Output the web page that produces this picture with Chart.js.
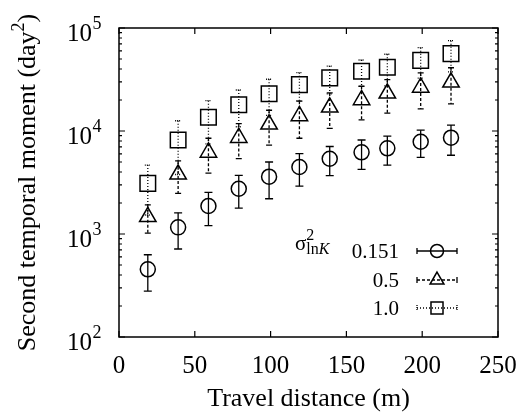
<!DOCTYPE html>
<html>
<head>
<meta charset="utf-8">
<script src="https://cdn.jsdelivr.net/npm/chart.js@4.4.1/dist/chart.umd.min.js"></script>
<style>
  html, body { margin: 0; padding: 0; background: #fff; }
</style>
</head>
<body>
<canvas id="momentChart" width="524" height="418"></canvas>
<script>
// travel distance (m) of the sampling planes
const distances = [19, 39, 59, 79, 99, 119, 139, 160, 177, 199, 219];

// sigma^2 lnK = 0.151
const moment0151 = [454, 1160, 1870, 2750, 3600, 4470, 5380, 6210, 6790, 7870, 8610];
const spread0151 = [175, 445, 665, 965, 1400, 1560, 1690, 1965, 2130, 2325, 2795];
// sigma^2 lnK = 0.5
const moment05 = [1470, 3800, 6200, 8600, 11600, 14000, 17000, 20000, 23200, 26500, 29700];
const spread05 = [450, 1320, 2300, 3200, 4300, 5500, 6400, 7200, 8300, 10100, 11400];
// sigma^2 lnK = 1.0
const moment10 = [3100, 8180, 13600, 18000, 23000, 28200, 32800, 38000, 41500, 48500, 56400];
const spread10 = [1570, 4400, 6100, 7000, 8800, 8600, 9900, 10900, 14100, 15900, 18900];

const seriesLabels = ['0.151', '0.5', '1.0'];
const xTicks = [0, 50, 100, 150, 200, 250];
const yExponents = [2, 3, 4, 5];

const means = [moment0151, moment05, moment10];
const spreads = [spread0151, spread05, spread10];
const styles = ['circle', 'triangle', 'rect'];
const radii = [7.5, 9.5, 11];
const legendRadii = [6.5, 8, 8.5];
const dashes = [[], [3, 2], [1, 2]];

const ink = '#000';
const serif = '"Liberation Serif", "Times New Roman", serif';

function drawErrorBars(chart) {
  const ctx = chart.ctx;
  const xs = chart.scales.x, ys = chart.scales.y;
  chart.data.datasets.forEach((ds, i) => {
    ctx.save();
    ctx.strokeStyle = ink;
    ctx.lineWidth = 1.3;
    ds.data.forEach((p, j) => {
      const x = xs.getPixelForValue(p.x);
      const hi = ys.getPixelForValue(p.y + spreads[i][j]);
      const lo = ys.getPixelForValue(p.y - spreads[i][j]);
      const cap = i === 0 ? 4 : 3;
      ctx.setLineDash(dashes[i]);
      ctx.beginPath();
      ctx.moveTo(x, hi); ctx.lineTo(x, lo);
      ctx.stroke();
      ctx.setLineDash(i === 2 ? [1, 1] : []);
      ctx.beginPath();
      ctx.moveTo(x - cap, hi); ctx.lineTo(x + cap, hi);
      ctx.moveTo(x - cap, lo); ctx.lineTo(x + cap, lo);
      ctx.stroke();
    });
    ctx.restore();
  });
}

function drawFrame(chart) {
  const ctx = chart.ctx;
  const xs = chart.scales.x, ys = chart.scales.y;
  const { left, right, top, bottom } = chart.chartArea;
  ctx.save();
  ctx.strokeStyle = ink;
  ctx.lineWidth = 1.5;
  ctx.strokeRect(left, top, right - left, bottom - top);

  ctx.lineWidth = 1.2;
  ctx.beginPath();
  xTicks.forEach(v => {
    const px = xs.getPixelForValue(v);
    ctx.moveTo(px, bottom); ctx.lineTo(px, bottom - 6);
    ctx.moveTo(px, top); ctx.lineTo(px, top + 6);
  });
  yExponents.forEach((e, k) => {
    const py = ys.getPixelForValue(Math.pow(10, e));
    ctx.moveTo(left, py); ctx.lineTo(left + 6, py);
    ctx.moveTo(right, py); ctx.lineTo(right - 6, py);
    if (k === yExponents.length - 1) return;
    for (let m = 2; m <= 9; m++) {
      const pm = ys.getPixelForValue(m * Math.pow(10, e));
      ctx.moveTo(left, pm); ctx.lineTo(left + 3, pm);
      ctx.moveTo(right, pm); ctx.lineTo(right - 3, pm);
    }
  });
  ctx.stroke();

  // tick labels
  ctx.fillStyle = ink;
  ctx.textBaseline = 'alphabetic';
  ctx.font = '25px ' + serif;
  ctx.textAlign = 'center';
  xTicks.forEach(v => ctx.fillText(String(v), xs.getPixelForValue(v), 373));

  ctx.textAlign = 'left';
  yExponents.forEach(e => {
    const py = ys.getPixelForValue(Math.pow(10, e));
    ctx.font = '25px ' + serif;
    const wBase = ctx.measureText('10').width;
    ctx.font = '18px ' + serif;
    const wExp = ctx.measureText(String(e)).width;
    const x0 = 101 - wBase - wExp;
    ctx.font = '25px ' + serif;
    ctx.fillText('10', x0, py + 12.5);
    ctx.font = '18px ' + serif;
    ctx.fillText(String(e), x0 + wBase + 0.5, py + 1);
  });

  // axis titles
  ctx.font = '26px ' + serif;
  ctx.textAlign = 'center';
  ctx.fillText('Travel distance (m)', (left + right) / 2, 406);

  ctx.save();
  ctx.translate(35, (top + bottom) / 2);
  ctx.rotate(-Math.PI / 2);
  ctx.textAlign = 'left';
  const head = 'Second temporal moment (day';
  ctx.font = '26px ' + serif;
  const wHead = ctx.measureText(head).width;
  const wClose = ctx.measureText(')').width;
  ctx.font = '18px ' + serif;
  const wSup = ctx.measureText('2').width;
  let tx = -(wHead + wSup + wClose) / 2;
  ctx.font = '26px ' + serif;
  ctx.fillText(head, tx, 0);
  tx += wHead;
  ctx.font = '18px ' + serif;
  ctx.fillText('2', tx, -11);
  tx += wSup;
  ctx.font = '26px ' + serif;
  ctx.fillText(')', tx, 0);
  ctx.restore();

  // legend inside the plot
  const rows = [251, 280, 308];
  ctx.font = '21px ' + serif;
  ctx.textAlign = 'right';
  seriesLabels.forEach((lab, i) => ctx.fillText(lab, 399, rows[i] + 7));

  ctx.textAlign = 'left';
  ctx.font = '21px ' + serif;
  ctx.fillText('\u03c3', 295, 250);
  const sx = 295 + ctx.measureText('\u03c3').width;
  ctx.font = '16px ' + serif;
  ctx.fillText('2', sx, 240);
  ctx.fillText('ln', sx, 254);
  const wLn = ctx.measureText('ln').width;
  ctx.font = 'italic 16px ' + serif;
  ctx.fillText('K', sx + wLn, 254);

  rows.forEach((ry, i) => {
    ctx.save();
    ctx.lineWidth = 1.3;
    ctx.setLineDash(dashes[i]);
    ctx.beginPath();
    ctx.moveTo(417, ry); ctx.lineTo(457, ry);
    ctx.stroke();
    ctx.setLineDash(i === 2 ? [1, 1] : []);
    ctx.beginPath();
    ctx.moveTo(417, ry - 3); ctx.lineTo(417, ry + 3);
    ctx.moveTo(457, ry - 3); ctx.lineTo(457, ry + 3);
    ctx.stroke();
    ctx.setLineDash([]);
    ctx.lineWidth = 1.5;
    ctx.fillStyle = 'rgba(0,0,0,0)';
    Chart.helpers.drawPoint(ctx, { pointStyle: styles[i], radius: legendRadii[i], rotation: 0, borderWidth: 1.5 }, 437, ry);
    ctx.restore();
  });
  ctx.restore();
}

const momentPlugin = {
  id: 'momentPlugin',
  beforeDatasetsDraw: drawErrorBars,
  afterDraw: drawFrame
};

const ctx = document.getElementById('momentChart').getContext('2d');

const momentChart = new Chart(ctx, {
  type: 'scatter',
  data: {
    datasets: seriesLabels.map((lab, i) => ({
      label: lab,
      data: distances.map((d, j) => ({ x: d, y: means[i][j] })),
      pointStyle: styles[i],
      pointRadius: radii[i],
      pointHoverRadius: radii[i],
      pointBorderWidth: 1.5,
      borderColor: ink,
      backgroundColor: 'rgba(0,0,0,0)',
      showLine: false
    }))
  },
  options: {
    responsive: false,
    animation: false,
    clip: false,
    layout: { padding: { top: 28, right: 26, left: 0, bottom: 0 } },
    scales: {
      x: {
        type: 'linear',
        min: 0,
        max: 250,
        grid: { display: false },
        border: { display: false },
        ticks: { display: false },
        afterFit: scale => { scale.height = 81; }
      },
      y: {
        type: 'logarithmic',
        min: 100,
        max: 100000,
        grid: { display: false },
        border: { display: false },
        ticks: { display: false },
        afterFit: scale => { scale.width = 119; }
      }
    },
    plugins: {
      legend: { display: false },
      tooltip: { enabled: false }
    }
  },
  plugins: [momentPlugin]
});
</script>
</body>
</html>
